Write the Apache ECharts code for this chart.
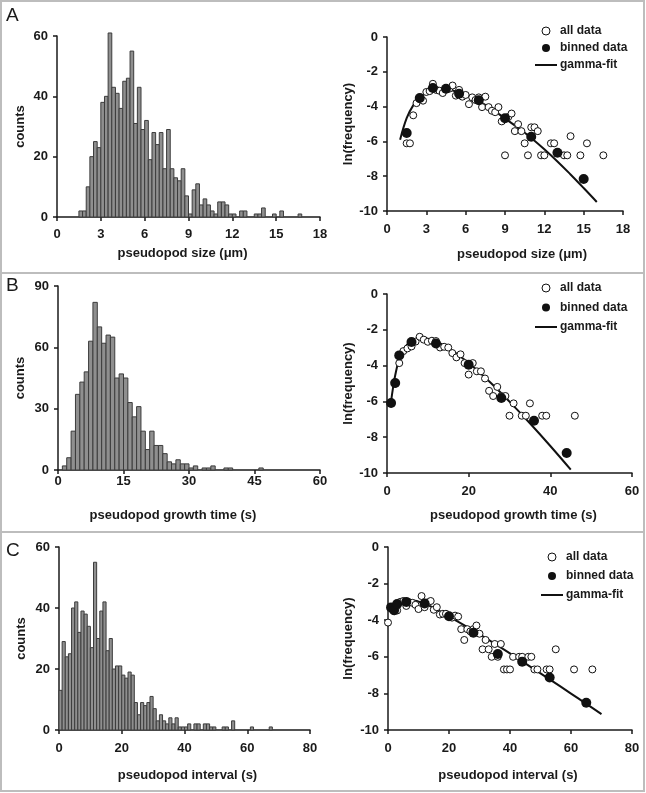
<!DOCTYPE html>
<html><head><meta charset="utf-8">
<script src="https://cdn.jsdelivr.net/npm/echarts/dist/echarts.min.js"></script>
<style>html,body{margin:0;padding:0;background:#fff}#c{width:646px;height:793px}</style>
</head><body><div id="c"></div><script>
// ---------------- DATA ----------------
// Panel A: pseudopod size histogram (bin width 0.25 um, first bin starts at 1.5)
const histA_start = 1.5, histA_width = 0.25;
const histA_counts = [2,2,10,20,25,23,38,40,61,43,41,36,45,46,55,31,43,29,32,19,28,24,28,16,29,16,13,12,16,7,1,9,11,4,6,4,2,1,5,5,4,1,1,0,2,2,0,0,1,1,3,0,0,1,0,2,0,0,0,0,1];
// Panel B: growth time histogram (bin width 1 s, first bin starts at 0)
const histB_start = 0, histB_width = 1;
const histB_counts = [0,2,6,19,37,43,48,63,82,70,62,66,65,45,47,45,33,26,31,19,10,19,12,12,8,4,3,5,3,3,1,2,0,1,1,2,0,0,1,1,0,0,0,0,0,0,1];
// Panel C: interval histogram (bin width 1 s, first bin starts at 0)
const histC_start = 0, histC_width = 1;
const histC_counts = [13,29,24,25,40,42,32,39,38,34,27,55,30,39,42,26,30,20,21,21,18,17,19,18,9,5,9,8,9,11,7,3,5,3,2,4,2,4,1,1,1,2,0,2,2,0,2,2,1,1,0,0,1,1,0,3,0,0,0,0,0,1,0,0,0,0,0,1];

// ln(frequency) "all data" points [x, ln f]
const allA = [[1.5,-6.11],[1.75,-6.11],[2,-4.50],[2.25,-3.80],[2.5,-3.58],[2.75,-3.66],[3,-3.16],[3.25,-3.11],[3.5,-2.69],[3.75,-3.04],[4,-3.09],[4.25,-3.22],[4.5,-2.99],[4.75,-2.97],[5,-2.79],[5.25,-3.37],[5.5,-3.04],[5.75,-3.43],[6,-3.33],[6.25,-3.86],[6.5,-3.47],[6.75,-3.62],[7,-3.47],[7.25,-4.03],[7.5,-3.43],[7.75,-4.03],[8,-4.24],[8.25,-4.32],[8.5,-4.03],[8.75,-4.85],[9,-6.80],[9.25,-4.60],[9.5,-4.40],[9.75,-5.41],[10,-5.01],[10.25,-5.41],[10.5,-6.11],[10.75,-6.80],[11,-5.19],[11.25,-5.19],[11.5,-5.41],[11.75,-6.80],[12,-6.80],[12.5,-6.11],[12.75,-6.11],[13.5,-6.80],[13.75,-6.80],[14,-5.70],[14.75,-6.80],[15.25,-6.11],[16.5,-6.80]];
const allB = [[1,-6.11],[2,-5.01],[3,-3.86],[4,-3.19],[5,-3.04],[6,-2.93],[7,-2.66],[8,-2.39],[9,-2.55],[10,-2.67],[11,-2.61],[12,-2.63],[13,-2.99],[14,-2.95],[15,-2.99],[16,-3.30],[17,-3.54],[18,-3.37],[19,-3.86],[20,-4.50],[21,-3.86],[22,-4.32],[23,-4.32],[24,-4.72],[25,-5.41],[26,-5.70],[27,-5.19],[28,-5.70],[29,-5.70],[30,-6.80],[31,-6.11],[33,-6.80],[34,-6.80],[35,-6.11],[38,-6.80],[39,-6.80],[46,-6.80]];
const allC = [[0,-4.13],[1,-3.32],[2,-3.51],[3,-3.47],[4,-3.00],[5,-2.95],[6,-3.22],[7,-3.03],[8,-3.05],[9,-3.16],[10,-3.39],[11,-2.68],[12,-3.29],[13,-3.03],[14,-2.95],[15,-3.43],[16,-3.29],[17,-3.69],[18,-3.65],[19,-3.65],[20,-3.80],[21,-3.86],[22,-3.75],[23,-3.80],[24,-4.49],[25,-5.08],[26,-4.49],[27,-4.61],[28,-4.49],[29,-4.29],[30,-4.74],[31,-5.59],[32,-5.08],[33,-5.59],[34,-6.00],[35,-5.30],[36,-6.00],[37,-5.30],[38,-6.69],[39,-6.69],[40,-6.69],[41,-6.00],[43,-6.00],[44,-6.00],[46,-6.00],[47,-6.00],[48,-6.69],[49,-6.69],[52,-6.69],[53,-6.69],[55,-5.59],[61,-6.69],[67,-6.69]];

// "binned data" points
const binA = [[1.5,-5.52],[2.5,-3.51],[3.5,-2.93],[4.5,-2.97],[5.5,-3.26],[7,-3.64],[9,-4.67],[11,-5.73],[13,-6.65],[15,-8.16]];
const binB = [[1,-6.09],[2,-4.97],[3,-3.43],[6,-2.68],[12,-2.77],[20,-3.95],[28,-5.81],[36,-7.08],[44,-8.88]];
const binC = [[1,-3.30],[2,-3.45],[3,-3.12],[6,-3.00],[12,-3.09],[20,-3.78],[28,-4.69],[36,-5.85],[44,-6.27],[53,-7.13],[65,-8.51]];

// "gamma-fit" curves
const fitA = [[1,-5.90],[1.5,-4.66],[2,-3.93],[2.5,-3.48],[3,-3.21],[4,-3.00],[5,-3.07],[6,-3.32],[7,-3.69],[8,-4.15],[9,-4.68],[10,-5.22],[11,-5.80],[12,-6.45],[13,-7.15],[14,-7.90],[15,-8.68],[16,-9.48]];
const fitB = [[1,-6.00],[1.5,-5.20],[2,-4.55],[3,-3.60],[4,-3.10],[6,-2.62],[8,-2.47],[10,-2.50],[12,-2.65],[15,-3.01],[20,-3.85],[25,-4.87],[30,-6.01],[35,-7.22],[40,-8.49],[45,-9.81]];
const fitC = [[1,-3.30],[2,-3.10],[3,-3.00],[5,-2.93],[8,-2.93],[12,-3.10],[16,-3.42],[20,-3.80],[28,-4.57],[36,-5.39],[44,-6.25],[53,-7.23],[60,-8.01],[65,-8.57],[70,-9.13]];

// axis tick settings
const xTicksA = {max:18, interval:3}, xTicksB = {max:60, interval:15}, xTicksBs = {max:60, interval:20}, xTicksC = {max:80, interval:20};
const yHistA = {max:60, interval:20}, yHistB = {max:90, interval:30}, yHistC = {max:60, interval:20};
const yLn = {min:-10, max:0, interval:2};

const nameSize = 'pseudopod size (\u03bcm)';
const nameGrowth = 'pseudopod growth time (s)';
const nameInterval = 'pseudopod interval (s)';

// ---------------- CHART ----------------
const FONT = '"Liberation Sans", Arial, Helvetica, sans-serif';
const INK = '#1a1a1a';
const chart = echarts.init(document.getElementById('c'), null, {renderer:'canvas'});

function toBins(start, width, counts){
  const out = [];
  counts.forEach((c,i)=>{ if (c>0) out.push([start + i*width, c, start + (i+1)*width]); });
  return out;
}
function histSeries(gi, start, width, counts){
  return {
    type:'custom', xAxisIndex:gi, yAxisIndex:gi, data: toBins(start,width,counts),
    encode:{x:[0,2], y:1},
    renderItem:function(params, api){
      const p0 = api.coord([api.value(0), api.value(1)]);
      const p1 = api.coord([api.value(2), 0]);
      return {type:'rect', shape:{x:p0[0], y:p0[1], width:p1[0]-p0[0], height:p1[1]-p0[1]},
        style:{fill:'#8f8f8f', stroke:'#3c3c3c', lineWidth:1}};
    }
  };
}
const grids = [
  {left:57, top:36, width:263, height:181},
  {left:387, top:37, width:236, height:174},
  {left:58, top:286, width:262, height:184},
  {left:387, top:294, width:245, height:179},
  {left:59, top:547, width:251, height:183},
  {left:388, top:547, width:244, height:183}
];
const lbl = {color:INK, fontWeight:'bold', fontSize:13, fontFamily:FONT};
function xAxis(gi, t, name, gap, labelMargin, dx){
  const pad = dx>=0 ? [0,0,0,2*dx] : [0,-2*dx,0,0];
  return {type:'value', gridIndex:gi, min:0, max:t.max, interval:t.interval, position:'bottom',
    axisLine:{show:true, onZero:false, lineStyle:{color:INK, width:1.5}},
    axisTick:{show:true, length:4, lineStyle:{color:INK, width:1.5}},
    axisLabel:Object.assign({margin:labelMargin}, lbl), splitLine:{show:false},
    name:name, nameLocation:'middle', nameGap:gap,
    nameTextStyle:Object.assign({padding:pad}, lbl)};
}
function yAxis(gi, t, name, gap){
  return {type:'value', gridIndex:gi, min:(t.min!==undefined?t.min:0), max:t.max, interval:t.interval,
    axisLine:{show:true, onZero:false, lineStyle:{color:INK, width:1.5}},
    axisTick:{show:true, length:4, lineStyle:{color:INK, width:1.5}},
    axisLabel:Object.assign({margin:9}, lbl), splitLine:{show:false},
    name:name, nameLocation:'middle', nameGap:gap, nameRotate:90,
    nameTextStyle:Object.assign({}, lbl)};
}
function scatterSet(gi, all, bin, fit){
  return [
    {type:'line', name:'gamma-fit', xAxisIndex:gi, yAxisIndex:gi, data:fit, smooth:0.4, symbol:'none',
      lineStyle:{color:'#111', width:2}, itemStyle:{color:'#111'}, z:2},
    {type:'scatter', name:'all data', xAxisIndex:gi, yAxisIndex:gi, data:all, symbol:'circle', symbolSize:7,
      itemStyle:{color:'#fff', borderColor:'#111', borderWidth:1, opacity:1}, z:3},
    {type:'scatter', name:'binned data', xAxisIndex:gi, yAxisIndex:gi, data:bin, symbol:'circle', symbolSize:10,
      itemStyle:{color:'#111', opacity:1}, z:4}
  ];
}
// thin horizontal bar icon with an invisible 22x8 bounding box
const LINE_ICON = 'path://M0,0L0.01,0L0,0.01Z M0,3.1L22,3.1L22,4.9L0,4.9Z M22,8L21.99,8L22,7.99Z';
function legend(left, top, gap, fs){
  return {left:left, top:top, orient:'vertical', itemWidth:22, itemHeight:8, itemGap:gap,
    selectedMode:false, textStyle:{color:INK, fontWeight:'bold', fontSize:fs, fontFamily:FONT, padding:[0,0,0,-2]},
    data:[{name:'all data', itemStyle:{color:'#fff', borderColor:'#111', borderWidth:1}},{name:'binned data'},
      {name:'gamma-fit', icon:LINE_ICON, itemStyle:{color:'#111', borderWidth:0}}]};
}

const option = {
  animation:false,
  backgroundColor:'#fff',
  grid:grids,
  xAxis:[
    xAxis(0, xTicksA, nameSize, 30, 11, -6),
    xAxis(1, xTicksA, nameSize, 37, 12, 17),
    xAxis(2, xTicksB, nameGrowth, 39, 5, -16),
    xAxis(3, xTicksBs, nameGrowth, 36, 12, 4),
    xAxis(4, xTicksC, nameInterval, 39, 12, 3),
    xAxis(5, xTicksC, nameInterval, 39, 12, -2)
  ],
  yAxis:[
    yAxis(0, yHistA, 'counts', 30),
    yAxis(1, yLn, 'ln(frequency)', 32),
    yAxis(2, yHistB, 'counts', 31),
    yAxis(3, yLn, 'ln(frequency)', 32),
    yAxis(4, yHistC, 'counts', 31),
    yAxis(5, yLn, 'ln(frequency)', 33)
  ],
  legend:[
    legend(530, 20, 5, 12),
    legend(530, 277, 7.5, 12),
    legend(536, 546, 7, 12)
  ],
  series:[].concat(
    [histSeries(0, histA_start, histA_width, histA_counts)],
    scatterSet(1, allA, binA, fitA),
    [histSeries(2, histB_start, histB_width, histB_counts)],
    scatterSet(3, allB, binB, fitB),
    [histSeries(4, histC_start, histC_width, histC_counts)],
    scatterSet(5, allC, binC, fitC)
  ),
  graphic:[
    {type:'rect', shape:{x:1, y:1, width:643, height:790}, style:{fill:null, stroke:'#bdbdbd', lineWidth:2}, silent:true},
    {type:'line', shape:{x1:1, y1:273, x2:645, y2:273}, style:{stroke:'#bdbdbd', lineWidth:2}, silent:true},
    {type:'line', shape:{x1:1, y1:532, x2:645, y2:532}, style:{stroke:'#bdbdbd', lineWidth:2}, silent:true},
    {type:'text', left:6, top:6, style:{text:'A', fontSize:19, fontFamily:FONT, fill:INK}},
    {type:'text', left:6, top:276, style:{text:'B', fontSize:19, fontFamily:FONT, fill:INK}},
    {type:'text', left:6, top:541, style:{text:'C', fontSize:19, fontFamily:FONT, fill:INK}}
  ]
};
chart.setOption(option);
</script></body></html>
